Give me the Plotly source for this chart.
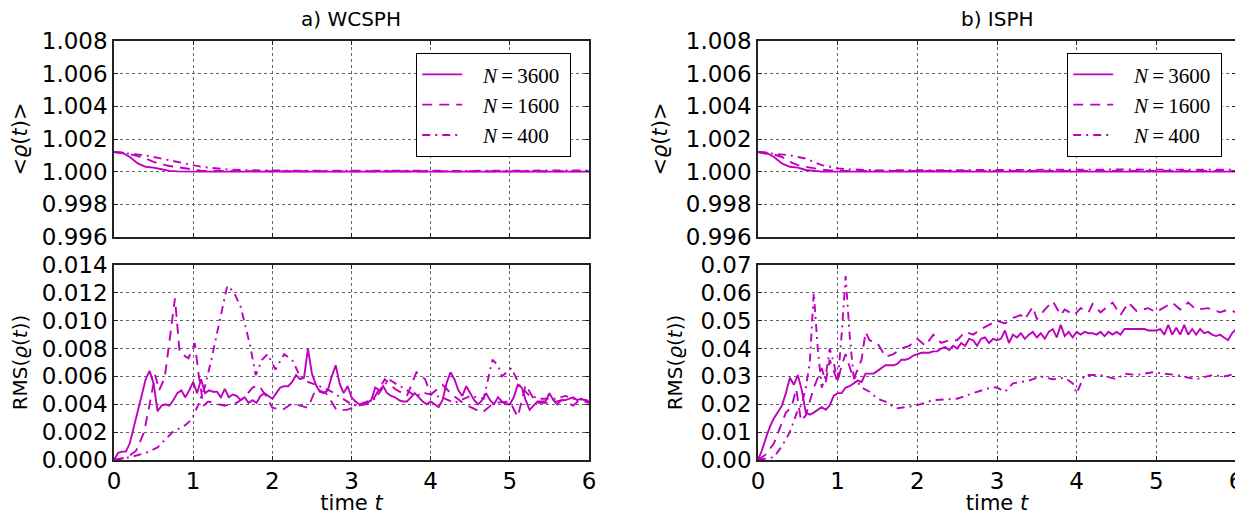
"""Density mean and RMS for WCSPH vs ISPH at three resolutions."""
import numpy as np
import plotly.graph_objects as go

MAGENTA = "#bf00bf"
FONT = "DejaVu Sans"
SERIF = "Liberation Serif"

# the page body keeps its default 8px margin, so the figure is drawn 8px in
# from the top-left corner; positions below are given in screen pixels
PAGE_W, PAGE_H, OFF = 1243, 515, 8
W, H = PAGE_W - OFF, PAGE_H - OFF

# ---- time grid for the finely sampled solid curves (dt = 0.05)
T_FINE = np.round(np.linspace(0, 6, 121), 2)

# ---- a) WCSPH, RMS (x 1e-3)
WC_RMS_3600 = [
    0, 0.5, 0.6, 0.6, 1.2, 2.3, 3.5, 4.6, 5.8, 6.4, 5.5, 3.5, 3.9, 4.0, 3.9, 4.3, 4.8, 5.0, 4.5, 5.0,
    5.6, 4.8, 5.8, 4.8, 5.0, 4.9, 4.9, 4.5, 5.1, 4.5, 4.7, 4.6, 4.3, 4.5, 4.1, 4.3, 4.1, 4.6, 4.8, 4.6,
    4.4, 4.8, 5.2, 5.3, 5.3, 5.6, 6.1, 5.8, 5.9, 8.0, 6.2, 5.4, 4.9, 4.8, 5.0, 6.0, 6.8, 5.5, 4.8, 5.3,
    4.5, 4.2, 4.0, 4.0, 4.1, 4.3, 5.2, 5.0, 5.3, 4.8, 4.6, 4.5, 4.3, 4.2, 4.2, 4.5, 4.8, 4.5, 4.2, 4.0,
    4.2, 4.0, 3.8, 4.3, 5.5, 6.3, 5.8, 5.0, 4.6, 5.3, 4.8, 4.3, 4.0, 4.3, 4.8, 4.3, 4.0, 4.5, 4.2, 4.0,
    4.0, 4.5, 5.4, 5.2, 4.3, 3.6, 3.9, 4.2, 4.2, 4.2, 4.8, 4.3, 4.0, 4.3, 4.3, 4.4, 4.5, 4.3, 4.4, 4.3,
    4.2,
]
WC_T_1600 = [0, 0.17, 0.28, 0.38, 0.45, 0.52, 0.57, 0.64, 0.7, 0.77, 0.83, 0.94, 1.02, 1.07, 1.13,
             1.19, 1.32, 1.4, 1.55, 1.65, 1.75, 1.83, 1.92, 2.0, 2.13, 2.26, 2.35, 2.45, 2.55, 2.68,
             2.81, 2.94, 3.08, 3.25, 3.42, 3.55, 3.7, 3.82, 3.93, 4.0, 4.15, 4.27, 4.43, 4.55, 4.65,
             4.8, 5.0, 5.1, 5.2, 5.33, 5.5, 5.67, 5.8, 5.88, 6.0]
WC_RMS_1600 = [0, 0.2, 0.67, 2.0, 4.0, 6.1, 5.0, 5.9, 8.5, 11.6, 7.7, 7.3, 8.4, 6.1, 3.9,
               4.2, 4.0, 3.9, 4.1, 4.5, 5.2, 5.35, 4.6, 3.75, 3.6, 4.1, 3.9, 3.75, 5.1, 4.8,
               3.6, 3.6, 3.9, 4.1, 5.8, 5.1, 4.6, 6.3, 5.8, 4.7, 5.4, 4.7, 4.0, 3.7, 3.4,
               4.1, 4.2, 3.1, 5.4, 4.1, 4.1, 4.3, 3.9, 4.3, 4.1]
WC_T_400 = [0, 0.2, 0.4, 0.55, 0.74, 0.9, 0.98, 1.06, 1.15, 1.23, 1.32, 1.43, 1.51, 1.6, 1.66,
            1.72, 1.79, 1.87, 1.94, 2.04, 2.15, 2.26, 2.34, 2.45, 2.55, 2.72, 2.89, 3.03, 3.15,
            3.3, 3.47, 3.58, 3.68, 3.8, 3.93, 4.14, 4.3, 4.5, 4.67, 4.78, 4.85, 4.9, 5.02, 5.13,
            5.25, 5.4, 5.58, 5.7, 5.8, 5.98]
WC_RMS_400 = [0, 0.2, 0.5, 0.9, 2.0, 2.5, 2.9, 3.9, 5.3, 7.2, 9.6, 12.5, 12.1, 11.0, 9.6,
              8.2, 6.1, 7.2, 7.6, 6.5, 7.6, 7.1, 6.1, 5.6, 5.4, 5.0, 4.4, 3.9, 4.1,
              4.4, 5.8, 5.4, 5.1, 4.6, 4.8, 4.5, 4.1, 4.6, 4.4, 7.2, 6.8, 6.0, 6.6, 5.3,
              4.6, 4.4, 4.4, 4.6, 4.4, 4.3]

# ---- b) ISPH, RMS (x 1e-2)
IS_RMS_3600 = [
    0, 0.35, 0.8, 1.2, 1.5, 1.75, 1.95, 2.4, 2.95, 2.7, 3.05, 2.5, 1.7, 1.63, 1.7, 1.8, 1.9, 1.8, 1.96, 2.3,
    2.4, 2.4, 2.6, 2.65, 2.75, 2.85, 2.8, 3.1, 3.1, 3.1, 3.2, 3.3, 3.4, 3.4, 3.4, 3.45, 3.6, 3.6, 3.65, 3.75,
    3.8, 3.85, 3.85, 3.85, 3.9, 3.9, 4.0, 4.05, 3.95, 4.1, 4.0, 4.2, 4.1, 4.35, 4.3, 4.1, 4.35, 4.4, 4.2, 4.35,
    4.3, 4.35, 4.65, 4.2, 4.5, 4.4, 4.55, 4.35, 4.5, 4.6, 4.4, 4.55, 4.35, 4.6, 4.7, 4.4, 4.85, 4.45, 4.6, 4.4,
    4.6, 4.5, 4.6, 4.55, 4.55, 4.5, 4.6, 4.45, 4.6, 4.5, 4.6, 4.5, 4.7, 4.7, 4.7, 4.7, 4.7, 4.7, 4.65, 4.65,
    4.65, 4.7, 4.5, 4.85, 4.5, 4.75, 4.5, 4.85, 4.5, 4.7, 4.5, 4.7, 4.55, 4.6, 4.5, 4.45, 4.5, 4.4, 4.3, 4.55,
    4.7,
]
IS_T_1600 = [0, 0.1, 0.2, 0.3, 0.35, 0.42, 0.48, 0.54, 0.6, 0.7, 0.8, 0.85, 0.9, 1.0, 1.05, 1.1,
             1.2, 1.3, 1.35, 1.4, 1.5, 1.6, 1.7, 1.8, 1.9, 2.0, 2.1, 2.2, 2.3, 2.4, 2.5, 2.6,
             2.7, 2.8, 2.9, 3.0, 3.1, 3.2, 3.3, 3.35, 3.45, 3.5, 3.6, 3.7, 3.8, 3.85, 3.97, 4.05,
             4.15, 4.2, 4.3, 4.45, 4.55, 4.65, 4.75, 4.9, 5.0, 5.05, 5.2, 5.3, 5.4, 5.5, 5.65,
             5.8, 5.9, 6.0]
IS_RMS_1600 = [0, 0.2, 0.6, 1.3, 1.7, 1.9, 2.55, 1.4, 1.6, 2.6, 3.3, 2.8, 3.6, 2.8, 3.4, 3.8,
               2.9, 3.6, 4.6, 4.3, 4.2, 3.7, 3.8, 4.0, 4.1, 4.35, 4.1, 4.5, 4.2, 4.3, 4.3, 4.6,
               4.5, 4.7, 4.85, 5.0, 4.9, 5.1, 5.2, 5.05, 5.5, 5.05, 5.4, 5.7, 5.2, 5.4, 5.2, 5.45,
               5.3, 5.6, 5.3, 5.65, 5.2, 5.65, 5.35, 5.45, 5.3, 5.4, 5.65, 5.4, 5.65, 5.4, 5.45,
               5.3, 5.4, 5.3]
IS_T_400 = [0, 0.2, 0.3, 0.4, 0.5, 0.55, 0.6, 0.65, 0.7, 0.75, 0.8, 0.85, 0.9, 0.95, 1.0, 1.05,
            1.1, 1.15, 1.2, 1.3, 1.4, 1.5, 1.6, 1.73, 1.85, 1.98, 2.2, 2.5, 2.7, 2.92, 3.0, 3.1,
            3.2, 3.4, 3.55, 3.7, 3.85, 3.95, 4.0, 4.1, 4.3, 4.5, 4.6, 4.75, 4.95, 5.1, 5.25, 5.5,
            5.7, 5.85, 6.0]
IS_RMS_400 = [0, 0.1, 0.5, 1.0, 1.8, 2.0, 2.6, 3.5, 6.0, 4.0, 2.6, 3.0, 4.0, 3.5, 2.8, 4.5,
              6.6, 4.5, 3.0, 2.6, 2.45, 2.2, 2.1, 1.85, 1.9, 1.95, 2.15, 2.2, 2.4, 2.6, 2.6, 2.45,
              2.75, 2.85, 3.0, 2.9, 2.95, 2.75, 2.4, 3.05, 3.05, 2.9, 3.1, 3.05, 3.15, 3.1, 3.05, 2.9,
              3.05, 3.0, 3.1]

# ---- mean density, both methods
RHO_T = [0, 0.1, 0.2, 0.3, 0.4, 0.5, 0.6, 0.7, 0.8, 0.9, 1.0, 1.1, 1.2, 1.4, 1.6, 1.8, 2.0,
         2.5, 3.0, 3.5, 4.0, 4.5, 5.0, 5.5, 6.0]
WC_RHO_3600 = [1.0012, 1.00118, 1.0009, 1.0005, 1.0003, 1.00025, 1.00015, 1.00005, 1.00002, 1.0, 1.0,
               1.0, 1.0, 1.0, 1.0, 1.0, 1.0, 1.0, 1.0, 1.0, 1.0, 1.0, 1.0, 1.0, 1.0]
WC_RHO_1600 = [1.0012, 1.00112, 1.00108, 1.00095, 1.0008, 1.0006, 1.00045, 1.00035, 1.00028, 1.0002,
               1.00012, 1.00006, 1.00004, 1.00003, 1.00004, 1.00003, 1.00003, 1.00003, 1.00002,
               1.00003, 1.00002, 1.00003, 1.00002, 1.00003, 1.00002]
WC_RHO_400 = [1.0012, 1.00115, 1.0011, 1.00105, 1.001, 1.0009, 1.0008, 1.0007, 1.0006, 1.0005,
              1.0004, 1.0003, 1.00025, 1.00015, 1.0001, 1.00008, 1.00007, 1.00006, 1.00005,
              1.00006, 1.00005, 1.00005, 1.00006, 1.00005, 1.00008]
IS_RHO_3600 = [1.0012, 1.00118, 1.0009, 1.0005, 1.0003, 1.00025, 1.0001, 1.00003, 1.0, 1.0, 1.0,
               1.0, 1.0, 1.0, 1.0, 1.0, 1.0, 1.0, 1.0, 1.0, 1.0, 1.0, 1.0, 1.0, 1.0]
IS_RHO_1600 = [1.0012, 1.0011, 1.00105, 1.0009, 1.0006, 1.0004, 1.0003, 1.0002, 1.00012, 1.00008,
               1.00005, 1.00004, 1.00004, 1.00005, 1.00004, 1.00005, 1.00004, 1.00005, 1.00005,
               1.00006, 1.00005, 1.00006, 1.00005, 1.00006, 1.00005]
IS_RHO_400 = [1.0012, 1.00115, 1.0011, 1.00105, 1.001, 1.0009, 1.0008, 1.0006, 1.0004, 1.0003,
              1.0002, 1.00015, 1.00012, 1.0001, 1.00008, 1.00008, 1.00008, 1.00008, 1.0001,
              1.00012, 1.00012, 1.00013, 1.00012, 1.00012, 1.00012]

LABELS = ["&nbsp;&nbsp;&nbsp;<i>N</i>\u2009=\u20093600&nbsp;",
          "&nbsp;&nbsp;&nbsp;<i>N</i>\u2009=\u20091600&nbsp;",
          "&nbsp;&nbsp;&nbsp;<i>N</i>\u2009=\u2009400&nbsp;"]
DASHES = ["solid", "10px,7px", "8px,5px,2px,5px"]

# panel boxes in screen pixels (left, right) and (top, bottom)
X_PX = [(114, 589), (758, 1236)]
Y_PX = [(41, 237), (265, 460)]


def px_x(a, b):
    return [(a - OFF) / W, min(1.0, (b - OFF) / W)]


def px_y(top, bottom):
    return [1 - (bottom - OFF) / H, 1 - (top - OFF) / H]


fig = go.Figure()


def add_lines(xax, yax, series, legend=None):
    for i, (t, v, scale) in enumerate(series):
        fig.add_trace(go.Scatter(
            x=t, y=np.asarray(v) * scale, mode="lines", name=LABELS[i],
            line=dict(color=MAGENTA, width=1.9, dash=DASHES[i]),
            xaxis=xax, yaxis=yax, showlegend=legend is not None,
            legend=legend or "legend", legendgroup=f"{legend}{i}",
        ))


# axis ids: x/y (a top), x2/y2 (b top), x3/y3 (a bottom), x4/y4 (b bottom)
add_lines("x", "y", [(RHO_T, WC_RHO_3600, 1), (RHO_T, WC_RHO_1600, 1), (RHO_T, WC_RHO_400, 1)], "legend")
add_lines("x2", "y2", [(RHO_T, IS_RHO_3600, 1), (RHO_T, IS_RHO_1600, 1), (RHO_T, IS_RHO_400, 1)], "legend2")
add_lines("x3", "y3", [(T_FINE, WC_RMS_3600, 1e-3), (WC_T_1600, WC_RMS_1600, 1e-3),
                       (WC_T_400, WC_RMS_400, 1e-3)])
add_lines("x4", "y4", [(T_FINE, IS_RMS_3600, 1e-2), (IS_T_1600, IS_RMS_1600, 1e-2),
                       (IS_T_400, IS_RMS_400, 1e-2)])

axis_common = dict(
    showline=True, mirror="ticks", linecolor="#222", linewidth=1.5,
    ticks="inside", ticklen=4, tickcolor="#222", automargin=False,
    ticklabeloverflow="allow",
    showgrid=True, gridcolor="#666", griddash="dot", gridwidth=1,
    zeroline=False, tickfont=dict(family=FONT, size=23, color="black"),
)

layout = dict(
    width=W, height=H, margin=dict(l=0, r=0, t=0, b=0, autoexpand=False),
    paper_bgcolor="white", plot_bgcolor="white",
    font=dict(family=FONT, color="black"),
)

for k, (col, row) in enumerate([(0, 0), (1, 0), (0, 1), (1, 1)]):
    sfx = "" if k == 0 else str(k + 1)
    bottom = row == 1
    xa = dict(axis_common, domain=px_x(*X_PX[col]), range=[0, 6], dtick=1,
              anchor="y" + sfx, showticklabels=bottom)
    if bottom:
        xa["title"] = dict(text="time <i>t</i>", font=dict(size=21), standoff=4)
    if row == 0:
        ya = dict(axis_common, domain=px_y(*Y_PX[0]), range=[0.996, 1.008], dtick=0.002,
                  tickformat=".3f", anchor="x" + sfx,
                  title=dict(text="&lt;<i>ϱ</i>(<i>t</i>)&gt;", font=dict(size=21), standoff=12))
    else:
        rng, fmt, dt = ([0, 0.014], ".3f", 0.002) if col == 0 else ([0, 0.07], ".2f", 0.01)
        ya = dict(axis_common, domain=px_y(*Y_PX[1]), range=rng, dtick=dt, tickformat=fmt,
                  anchor="x" + sfx,
                  title=dict(text="RMS(<i>ϱ</i>(<i>t</i>))", font=dict(size=20), standoff=12))
    layout["xaxis" + sfx] = xa
    layout["yaxis" + sfx] = ya

legend_style = dict(
    xanchor="right", yanchor="top", y=1 - (53 - OFF) / H,
    bgcolor="white", bordercolor="black", borderwidth=1.2,
    font=dict(family=SERIF, size=21, color="black"),
    tracegroupgap=0, itemwidth=40,
)
layout["legend"] = dict(legend_style, x=(571 - OFF) / W)
layout["legend2"] = dict(legend_style, x=(1222 - OFF) / W)

layout["annotations"] = [
    dict(text="a) WCSPH", x=(351 - OFF) / W, y=1 - (19 - OFF) / H, xref="paper", yref="paper",
         xanchor="center", yanchor="middle", showarrow=False, font=dict(size=20)),
    dict(text="b) ISPH", x=(997 - OFF) / W, y=1 - (19 - OFF) / H, xref="paper", yref="paper",
         xanchor="center", yanchor="middle", showarrow=False, font=dict(size=20)),
]

fig.update_layout(**layout)
fig.write_html("out.html")
